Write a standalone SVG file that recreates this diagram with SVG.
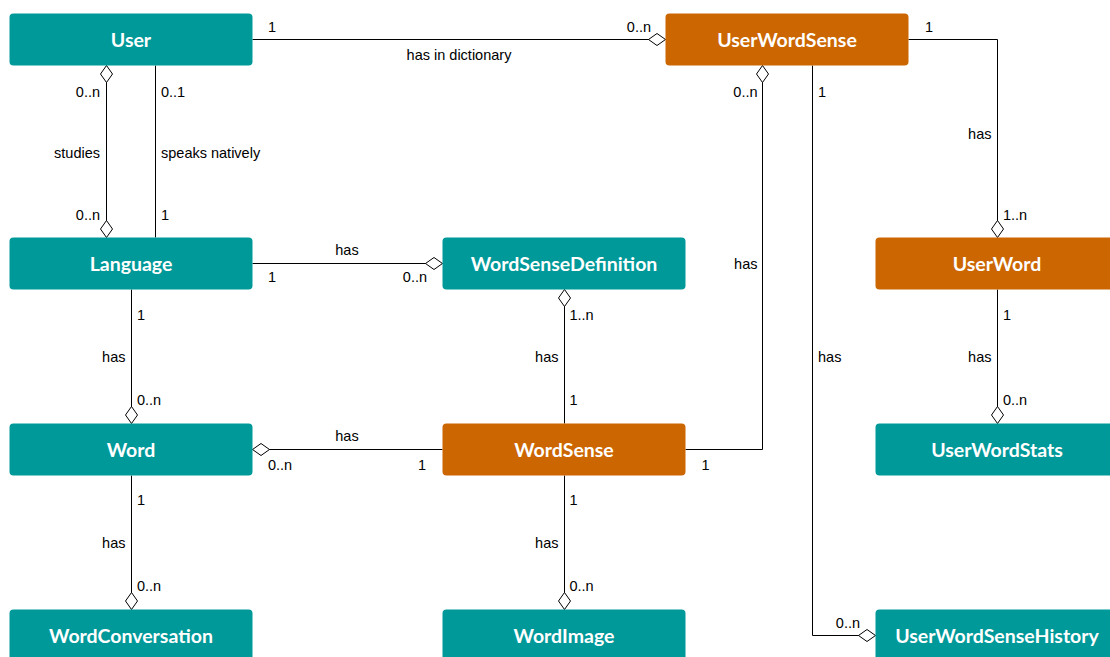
<svg xmlns="http://www.w3.org/2000/svg" width="1110" height="657" viewBox="0 0 1110 657">
  <style>
    .teal { fill: #009999; }
    .orange { fill: #CC6600; }
    .title { font-family: Lato, "Open Sans", sans-serif; font-weight: 700; font-size: 19.5px; fill: #ffffff; text-anchor: middle; }
    .edge { fill: none; stroke: #000000; stroke-width: 1; }
    .lbl { font-family: "Liberation Sans", Arial, sans-serif; font-size: 14.5px; fill: #000000; }
    .r { text-anchor: end; }
    .m { text-anchor: middle; }
  </style>
  <defs>
    <marker id="diamond" viewBox="0 0 18 13" refX="17.5" refY="6.5" markerWidth="18" markerHeight="13" markerUnits="userSpaceOnUse" orient="auto-start-reverse">
      <path d="M0.5,6.5 L9,0.5 L17.5,6.5 L9,12.5 Z" fill="#ffffff" stroke="#000000" stroke-width="1"/>
    </marker>
  </defs>

  <rect width="1110" height="657" fill="#ffffff"/>

  <!-- associations -->
  <g id="connectors">
    <path class="edge" d="M252.5,39.5 H665.5" marker-end="url(#diamond)"/>
    <path class="edge" d="M106.5,65.5 V237.5" marker-start="url(#diamond)" marker-end="url(#diamond)"/>
    <path class="edge" d="M155.5,65.5 V237.5"/>
    <path class="edge" d="M252.5,263.5 H442.5" marker-end="url(#diamond)"/>
    <path class="edge" d="M131.5,289.5 V423.5" marker-end="url(#diamond)"/>
    <path class="edge" d="M442.5,449.5 H252.5" marker-end="url(#diamond)"/>
    <path class="edge" d="M131.5,475.5 V609.5" marker-end="url(#diamond)"/>
    <path class="edge" d="M564.5,423.5 V289.5" marker-end="url(#diamond)"/>
    <path class="edge" d="M564.5,475.5 V609.5" marker-end="url(#diamond)"/>
    <path class="edge" d="M685.5,449.5 H762.5 V65.5" marker-end="url(#diamond)"/>
    <path class="edge" d="M812.5,65.5 V635.5 H875.5" marker-end="url(#diamond)"/>
    <path class="edge" d="M908.5,39.5 H997.5 V237.5" marker-end="url(#diamond)"/>
    <path class="edge" d="M997.5,289.5 V423.5" marker-end="url(#diamond)"/>

    <!-- User / UserWordSense -->
    <text class="lbl" x="268" y="31.5">1</text>
    <text class="lbl r" x="651" y="31.5">0..n</text>
    <text class="lbl m" x="459" y="59.5">has in dictionary</text>
    <!-- User / Language (studies) -->
    <text class="lbl r" x="100" y="96.5">0..n</text>
    <text class="lbl r" x="100" y="157.5">studies</text>
    <text class="lbl r" x="100" y="219.5">0..n</text>
    <!-- User / Language (speaks natively) -->
    <text class="lbl" x="161" y="96.5">0..1</text>
    <text class="lbl" x="161" y="157.5">speaks natively</text>
    <text class="lbl" x="161" y="219.5">1</text>
    <!-- Language / WordSenseDefinition -->
    <text class="lbl m" x="347" y="255">has</text>
    <text class="lbl" x="268" y="282">1</text>
    <text class="lbl r" x="427" y="282">0..n</text>
    <!-- Language / Word -->
    <text class="lbl" x="137" y="319.5">1</text>
    <text class="lbl r" x="125.5" y="362">has</text>
    <text class="lbl" x="137" y="405">0..n</text>
    <!-- Word / WordSense -->
    <text class="lbl m" x="347" y="441">has</text>
    <text class="lbl" x="268" y="469.5">0..n</text>
    <text class="lbl r" x="426" y="469.5">1</text>
    <!-- Word / WordConversation -->
    <text class="lbl" x="137" y="505">1</text>
    <text class="lbl r" x="125.5" y="548">has</text>
    <text class="lbl" x="137" y="591">0..n</text>
    <!-- WordSenseDefinition / WordSense -->
    <text class="lbl" x="569.5" y="319.5">1..n</text>
    <text class="lbl r" x="558.5" y="362">has</text>
    <text class="lbl" x="569.5" y="405">1</text>
    <!-- WordSense / WordImage -->
    <text class="lbl" x="569.5" y="505">1</text>
    <text class="lbl r" x="558.5" y="548">has</text>
    <text class="lbl" x="569.5" y="591">0..n</text>
    <!-- WordSense / UserWordSense -->
    <text class="lbl" x="701.5" y="469.5">1</text>
    <text class="lbl r" x="757.5" y="268.5">has</text>
    <text class="lbl r" x="757.5" y="96.5">0..n</text>
    <!-- UserWordSense / UserWordSenseHistory -->
    <text class="lbl" x="818" y="96.5">1</text>
    <text class="lbl" x="818" y="362">has</text>
    <text class="lbl r" x="860" y="627.5">0..n</text>
    <!-- UserWordSense / UserWord -->
    <text class="lbl" x="925" y="31.5">1</text>
    <text class="lbl r" x="991.5" y="138.5">has</text>
    <text class="lbl" x="1003" y="219.5">1..n</text>
    <!-- UserWord / UserWordStats -->
    <text class="lbl" x="1003" y="319.5">1</text>
    <text class="lbl r" x="991.5" y="362">has</text>
    <text class="lbl" x="1003" y="405">0..n</text>
  </g>

  <!-- entities -->
  <g id="User">
    <rect class="teal" x="9.5" y="13.5" width="243" height="52" rx="4"/>
    <text class="title" x="131" y="46.5">User</text>
  </g>
  <g id="Language">
    <rect class="teal" x="9.5" y="237.5" width="243" height="52" rx="4"/>
    <text class="title" x="131" y="270.5">Language</text>
  </g>
  <g id="Word">
    <rect class="teal" x="9.5" y="423.5" width="243" height="52" rx="4"/>
    <text class="title" x="131" y="456.5">Word</text>
  </g>
  <g id="WordConversation">
    <rect class="teal" x="9.5" y="609.5" width="243" height="52" rx="4"/>
    <text class="title" x="131" y="642.5">WordConversation</text>
  </g>
  <g id="WordSenseDefinition">
    <rect class="teal" x="442.5" y="237.5" width="243" height="52" rx="4"/>
    <text class="title" x="564" y="270.5">WordSenseDefinition</text>
  </g>
  <g id="WordSense">
    <rect class="orange" x="442.5" y="423.5" width="243" height="52" rx="4"/>
    <text class="title" x="564" y="456.5">WordSense</text>
  </g>
  <g id="WordImage">
    <rect class="teal" x="442.5" y="609.5" width="243" height="52" rx="4"/>
    <text class="title" x="564" y="642.5">WordImage</text>
  </g>
  <g id="UserWordSense">
    <rect class="orange" x="665.5" y="13.5" width="243" height="52" rx="4"/>
    <text class="title" x="787" y="46.5">UserWordSense</text>
  </g>
  <g id="UserWord">
    <rect class="orange" x="875.5" y="237.5" width="243" height="52" rx="4"/>
    <text class="title" x="997" y="270.5">UserWord</text>
  </g>
  <g id="UserWordStats">
    <rect class="teal" x="875.5" y="423.5" width="243" height="52" rx="4"/>
    <text class="title" x="997" y="456.5">UserWordStats</text>
  </g>
  <g id="UserWordSenseHistory">
    <rect class="teal" x="875.5" y="609.5" width="243" height="52" rx="4"/>
    <text class="title" x="997" y="642.5">UserWordSenseHistory</text>
  </g>
</svg>
